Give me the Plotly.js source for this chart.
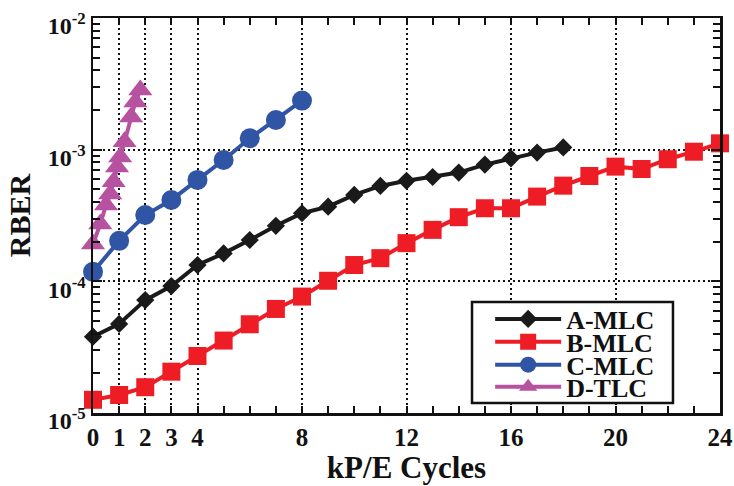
<!DOCTYPE html>
<html>
<head>
<meta charset="utf-8">
<script src="https://cdn.plot.ly/plotly-3.0.1.min.js"></script>
<style>
  html, body { margin: 0; padding: 0; background: #fff; }
  #chart { width: 734px; height: 486px; }
</style>
</head>
<body>
<div id="chart"></div>
<script>
// RBER versus program/erase cycles (thousands) for four flash chips
const cyclesA = [0, 1, 2, 3, 4, 5, 6, 7, 8, 9, 10, 11, 12, 13, 14, 15, 16, 17, 18];
const rberA = [3.8e-5, 4.75e-5, 7.2e-5, 9.2e-5, 1.33e-4, 1.63e-4, 2.06e-4, 2.64e-4, 3.29e-4,
               3.69e-4, 4.53e-4, 5.3e-4, 5.8e-4, 6.2e-4, 6.7e-4, 7.7e-4, 8.6e-4, 9.5e-4, 1.04e-3];

const cyclesB = [0, 1, 2, 3, 4, 5, 6, 7, 8, 9, 10, 11, 12, 13, 14, 15, 16, 17, 18, 19, 20, 21, 22, 23, 24];
const rberB = [1.26e-5, 1.37e-5, 1.57e-5, 2.06e-5, 2.71e-5, 3.55e-5, 4.72e-5, 6.17e-5, 7.66e-5,
               1.01e-4, 1.33e-4, 1.5e-4, 1.95e-4, 2.46e-4, 3.07e-4, 3.59e-4, 3.59e-4, 4.4e-4,
               5.33e-4, 6.31e-4, 7.43e-4, 7.13e-4, 8.46e-4, 9.65e-4, 1.117e-3];

const cyclesC = [0, 1, 2, 3, 4, 5, 6, 7, 8];
const rberC = [1.18e-4, 2.03e-4, 3.19e-4, 4.15e-4, 5.89e-4, 8.35e-4, 1.22e-3, 1.68e-3, 2.36e-3];

const cyclesD = [0, 0.28, 0.5, 0.66, 0.79, 0.92, 1.04, 1.21, 1.46, 1.62, 1.81];
const rberD = [1.92e-4, 2.73e-4, 3.8e-4, 4.6e-4, 5.7e-4, 7.4e-4, 8.8e-4, 1.15e-3, 1.77e-3, 2.3e-3, 2.84e-3];

const xTickVals = [0, 1, 2, 3, 4, 8, 12, 16, 20, 24];
const xTickText = ['0', '1', '2', '3', '4', '8', '12', '16', '20', '24'];
const yTickVals = [1e-5, 1e-4, 1e-3, 1e-2];
const yTickText = ['10<sup>-5</sup>', '10<sup>-4</sup>', '10<sup>-3</sup>', '10<sup>-2</sup>'];

const seriesNames = ['A-MLC', 'B-MLC', 'C-MLC', 'D-TLC'];
const seriesColors = ['#1a1a1a', '#ee1c25', '#2f55a4', '#b6529f'];
const seriesSymbols = ['diamond', 'square', 'circle', 'triangle-up'];
const seriesSizes = [14, 18, 20, 21];

const xs = [cyclesA, cyclesB, cyclesC, cyclesD];
const ys = [rberA, rberB, rberC, rberD];

// minor ticks: every integer multiple inside each decade of the log axis
const yMinorVals = [];
for (let e = -5; e < -2; e++) {
  for (let m = 2; m <= 9; m++) yMinorVals.push(m * Math.pow(10, e));
}

const serif = 'Liberation Serif, Times New Roman, serif';
const ink = '#111';

// one single-entry legend per series so the rows can sit close together
const legendIds = ['legend', 'legend2', 'legend3', 'legend4'];
const legendRowsY = [0.238, 0.180, 0.122, 0.066];

const traces = seriesNames.map((name, i) => ({
  type: 'scatter',
  mode: 'lines+markers',
  name: name,
  legend: legendIds[i],
  x: xs[i],
  y: ys[i],
  cliponaxis: false,
  line: { color: seriesColors[i], width: 4 },
  marker: { color: seriesColors[i], symbol: seriesSymbols[i], size: seriesSizes[i], line: { width: 0 } }
}));

const legendBase = {
  x: 0.6334, xanchor: 'left', yanchor: 'middle',
  bgcolor: 'rgba(0,0,0,0)', borderwidth: 0,
  font: { family: serif, size: 26, color: ink, weight: 'bold' },
  itemwidth: 66
};

const layout = {
  width: 734,
  height: 486,
  margin: { l: 93, r: 14, t: 18, b: 73 },
  paper_bgcolor: '#fff',
  plot_bgcolor: '#fff',
  font: { family: serif, size: 24, color: ink, weight: 'bold' },
  showlegend: true,
  xaxis: {
    range: [0, 24],
    tickmode: 'array',
    tickvals: xTickVals,
    ticktext: xTickText,
    ticks: 'inside', ticklen: 7, tickwidth: 2, tickcolor: ink,
    showline: true, linecolor: ink, linewidth: 2.5, mirror: 'allticks',
    showgrid: true, gridcolor: ink, gridwidth: 2, griddash: '2px,3px',
    zeroline: false,
    tickfont: { family: serif, size: 25, color: ink, weight: 'bold' },
    minor: { tickmode: 'linear', tick0: 0, dtick: 1, ticks: 'inside', ticklen: 7, tickwidth: 2, tickcolor: ink, showgrid: false },
    title: { text: 'kP/E Cycles', font: { family: serif, size: 31, color: ink, weight: 'bold' }, standoff: 4 }
  },
  yaxis: {
    type: 'log',
    range: [-5, -2],
    tickmode: 'array',
    tickvals: yTickVals,
    ticktext: yTickText,
    ticklabelshift: 8,
    ticklabeloverflow: 'allow',
    ticks: 'inside', ticklen: 9, tickwidth: 2, tickcolor: ink,
    showline: true, linecolor: ink, linewidth: 2.5, mirror: 'allticks',
    showgrid: true, gridcolor: ink, gridwidth: 2, griddash: '2px,3px',
    zeroline: false,
    tickfont: { family: serif, size: 24, color: ink, weight: 'bold' },
    minor: { tickmode: 'array', tickvals: yMinorVals, ticks: 'inside', ticklen: 7, tickwidth: 2, tickcolor: ink, showgrid: false },
    title: { text: 'RBER', font: { family: serif, size: 30, color: ink, weight: 'bold' }, standoff: 8 }
  },
  shapes: [{
    type: 'rect', xref: 'paper', yref: 'paper',
    x0: 0.6045, x1: 0.925, y0: 0.0253, y1: 0.281,
    line: { color: ink, width: 2.5 }, fillcolor: '#fff', layer: 'above'
  }]
};

legendIds.forEach((id, i) => {
  layout[id] = Object.assign({}, legendBase, { y: legendRowsY[i] });
});

Plotly.newPlot('chart', traces, layout, { displayModeBar: false, staticPlot: true });
</script>
</body>
</html>
